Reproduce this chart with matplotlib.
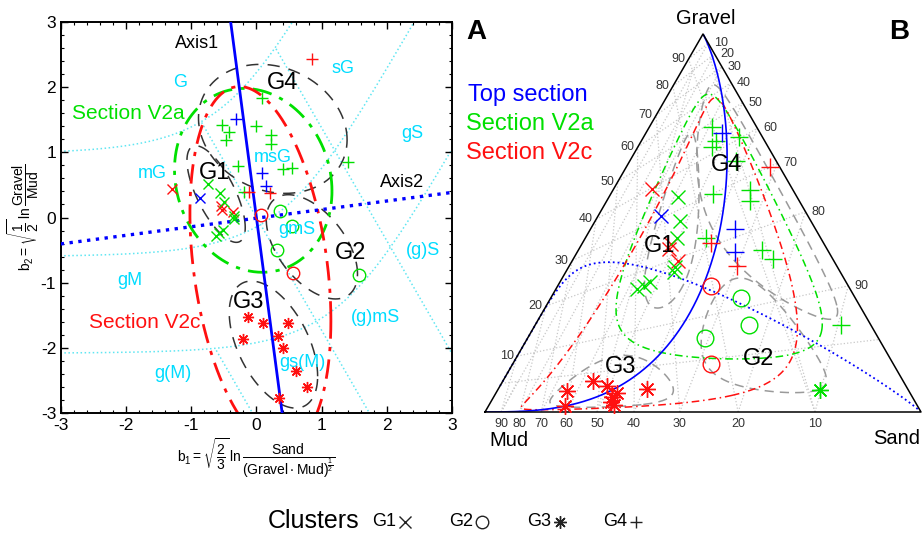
import numpy as np
import matplotlib.pyplot as plt

plt.rcParams['font.family'] = ['Liberation Sans', 'DejaVu Sans']
plt.rcParams['mathtext.fontset'] = 'custom'
plt.rcParams['mathtext.rm'] = 'Liberation Sans'
plt.rcParams['mathtext.it'] = 'Liberation Sans:italic'
plt.rcParams['mathtext.bf'] = 'Liberation Sans:bold'
plt.rcParams['mathtext.default'] = 'regular'
plt.rcParams['axes.unicode_minus'] = False

W, H = 922, 533

# =============================================================================
# Samples in ilr coordinates (b1, b2)
# =============================================================================
pt_b1 = [-0.53, -0.42, -0.47, -0.01, 0.22, 0.22, 0.08, -0.28, -0.19, 0.41, 0.54, 1.40,
         -0.31, 0.08, 0.15,
         0.85, -0.12, 0.21,
         -1.30, -0.54, -0.53, -0.36,
         -0.87,
         -0.74, -0.56, -0.50, -0.35, -0.34, -0.52, -0.57, -0.62,
         0.36, 0.54, 0.31, 1.57,
         0.07, 0.56,
         -0.13, 0.10, 0.48, -0.21, 0.33, 0.40, 0.60, 0.78, 0.35]
pt_b2 = [1.42, 1.31, 1.19, 1.40, 1.27, 1.13, 1.84, 0.79, 0.39, 0.74, 0.76, 0.85,
         1.51, 0.68, 0.48,
         2.43, 0.39, 0.37,
         0.43, 0.17, 0.12, 0.08,
         0.30,
         0.52, 0.37, 0.24, 0.02, -0.02, -0.19, -0.24, -0.29,
         0.10, -0.13, -0.50, -0.88,
         0.04, -0.85,
         -1.53, -1.62, -1.62, -1.87, -1.82, -2.01, -2.35, -2.60, -2.77]
pt_section = ['V2a'] * 12 + ['top'] * 3 + ['V2c'] * 3 + ['V2c'] * 4 + ['top'] \
    + ['V2a'] * 8 + ['V2a'] * 4 + ['V2c'] * 2 + ['V2c'] * 9
pt_cluster = [4] * 18 + [1] * 13 + [2] * 6 + [3] * 9
# panel B draws the far V2a sample of G2 with the G3 symbol
pt_cluster_b = list(pt_cluster)
pt_cluster_b[34] = 3

# =============================================================================
# Regions: centre and covariance in ilr space
# =============================================================================
ell_name = ['G1', 'G2', 'G3', 'G4', 'V2a', 'V2c']
ell_cx = [-0.62, 0.85, 0.26, 0.25, -0.05, 0.06]
ell_cy = [0.36, -0.45, -1.95, 1.36, 0.57, -0.76]
ell_sxx = [0.20, 0.49, 0.46, 1.30, 1.46, 1.17]
ell_syy = [0.55, 0.64, 0.95, 0.98, 1.99, 7.67]
ell_sxy = [-0.23, -0.29, -0.33, -0.19, -0.20, -0.89]

# principal axes
axis_centre = (0.0, -0.01)
axis1_angle = 97.5

# Folk classification limits
folk_gravel = [0.80, 0.30, 0.05]
folk_ratio = [9.0, 1.0, 1 / 9]
folk_ratio_gmax = [0.80, 0.80, 0.05]

# weights (gravel, sand, mud) of the centred ternary grid in panel B
grid_weights = [1.56, 0.346, 1.0]
tern_ticks = [10, 20, 30, 40, 50, 60, 70, 80, 90]

GREEN = '#00e000'
RED = '#ff1010'
BLUE = '#0000ff'
CYAN_L = '#60e6f2'
CYAN_T = '#00dcff'
sec_color = {'top': BLUE, 'V2a': GREEN, 'V2c': RED}
ASTER = (8, 2, 0)
clu_marker = {1: 'x', 2: 'o', 3: ASTER, 4: '+'}

SQ2 = np.sqrt(2)
SQ32 = np.sqrt(1.5)
SQ3 = np.sqrt(3)


def ilr(g, s, m):
    return np.sqrt(2 / 3) * np.log(s / np.sqrt(g * m)), np.log(g / m) / SQ2


def ilr_inv(b1, b2):
    b1 = np.asarray(b1, float)
    b2 = np.asarray(b2, float)
    g = np.exp(SQ2 * b2)
    s = np.exp(SQ32 * b1 + b2 / SQ2)
    return g, s, np.ones_like(g)


def tern(g, s, m):
    t = g + s + m
    return (s + g / 2) / t, g * SQ3 / 2 / t


def tern_grid(g, s, m):
    w = grid_weights
    return tern(np.asarray(g) * w[0], np.asarray(s) * w[1], np.asarray(m) * w[2])


def ellipse(i, n=600):
    c = np.array([[ell_sxx[i], ell_sxy[i]], [ell_sxy[i], ell_syy[i]]])
    L = np.linalg.cholesky(c)
    t = np.linspace(0, 2 * np.pi, n)
    u = L @ np.vstack([np.cos(t), np.sin(t)])
    return ell_cx[i] + u[0], ell_cy[i] + u[1]


def axis_line(angle, span=14, n=3000):
    t = np.linspace(-span, span, n)
    a = np.deg2rad(angle)
    return axis_centre[0] + t * np.cos(a), axis_centre[1] + t * np.sin(a)


def ell_style(name, big):
    if name.startswith('G'):
        return dict(color='#333333' if big else '#9a9a9a', lw=1.1,
                    dashes=(8, 6) if big else (6, 4))
    col = GREEN if name == 'V2a' else RED
    return dict(color=col, lw=2.0 if big else 1.1,
                dashes=(7, 3, 1.5, 3) if big else (5, 2.5, 1, 2.5))


fig = plt.figure(figsize=(W / 100, H / 100), dpi=100)

# =============================================================================
# Panel A: ilr plane
# =============================================================================
axA = fig.add_axes([61 / W, 1 - 413 / H, 391 / W, 391 / H])
axA.set_xlim(-3, 3)
axA.set_ylim(-3, 3)

r = np.logspace(-9, 9, 1500)
for v in folk_gravel:
    s = (1 - v) * r / (1 + r)
    m = (1 - v) / (1 + r)
    x, y = ilr(np.full_like(r, v), s, m)
    axA.plot(x, y, ':', color=CYAN_L, lw=1.1, zorder=1)
for k, gmax in zip(folk_ratio, folk_ratio_gmax):
    g = np.logspace(-9, np.log10(gmax), 1500)
    x, y = ilr(g, (1 - g) * k / (1 + k), (1 - g) / (1 + k))
    axA.plot(x, y, ':', color=CYAN_L, lw=1.1, zorder=1)

for i, name in enumerate(ell_name):
    x, y = ellipse(i)
    axA.plot(x, y, zorder=2, **ell_style(name, True))

x, y = axis_line(axis1_angle)
axA.plot(x, y, '-', color=BLUE, lw=2, zorder=3)
x, y = axis_line(axis1_angle - 90)
axA.plot(x, y, ':', color=BLUE, lw=2.4, zorder=3)

ms_a = {1: 6.5, 2: 9, 3: 8, 4: 9}
for b1, b2, sec, cl in zip(pt_b1, pt_b2, pt_section, pt_cluster):
    col = sec_color[sec]
    axA.plot(b1, b2, linestyle='none', marker=clu_marker[cl], ms=ms_a[cl],
             mec=col, mfc='none', mew=1.0, zorder=4)
    if cl == 3:
        axA.plot(b1, b2, 'o', ms=2.2, color=col, zorder=4)

cyan_labels = [('G', -1.17, 2.07), ('sG', 1.33, 2.29), ('gS', 2.39, 1.29),
               ('mG', -1.60, 0.68), ('msG', 0.25, 0.92), ('gmS', 0.62, -0.19),
               ('(g)S', 2.55, -0.50), ('gM', -1.94, -0.96), ('(g)mS', 1.82, -1.53),
               ('g(M)', -1.28, -2.39), ('gs(M)', 0.70, -2.22)]
for txt, x, y in cyan_labels:
    axA.text(x, y, txt, color=CYAN_T, fontsize=13, ha='center', va='center', zorder=5)

for txt, x, y in [('G4', 0.40, 2.07), ('G1', -0.65, 0.69), ('G2', 1.45, -0.55),
                  ('G3', -0.12, -1.30)]:
    axA.text(x, y, txt, fontsize=17, ha='center', va='center', zorder=5)
axA.text(-0.91, 2.67, 'Axis1', fontsize=13, ha='center', va='center')
axA.text(2.23, 0.54, 'Axis2', fontsize=13, ha='center', va='center')
axA.text(-1.97, 1.60, 'Section V2a', color=GREEN, fontsize=15, ha='center', va='center')
axA.text(-1.71, -1.61, 'Section V2c', color=RED, fontsize=15, ha='center', va='center')

axA.set_xticks(range(-3, 4))
axA.set_yticks(range(-3, 4))
axA.set_xticks(np.arange(-3, 3.01, 0.2), minor=True)
axA.set_yticks(np.arange(-3, 3.01, 0.2), minor=True)
axA.tick_params(which='both', direction='in', top=True, right=True, labelsize=12.5)
axA.tick_params(which='major', length=5, width=1)
axA.tick_params(which='minor', length=2.5, width=0.8)
for sp in axA.spines.values():
    sp.set_linewidth(1.4)
axA.set_xlabel(r'$b_1=\sqrt{\dfrac{2}{3}}\,\ln\dfrac{Sand}{(Gravel\cdot Mud)^{\frac{1}{2}}}$',
               fontsize=10, labelpad=3)
axA.set_ylabel(r'$b_2=\sqrt{\dfrac{1}{2}}\,\ln\dfrac{Gravel}{Mud}$', fontsize=10, labelpad=0)

# =============================================================================
# Panel B: ternary diagram
# =============================================================================
axB = fig.add_axes([485 / W, 1 - 412 / H, 436 / W, 378 / H])
axB.set_xlim(0, 1)
axB.set_ylim(0, SQ3 / 2)
axB.axis('off')

f = np.linspace(0, 1, 300)
for t in tern_ticks:
    v = t / 100
    for g, s, m in [(np.full_like(f, v), (1 - v) * f, (1 - v) * (1 - f)),
                    ((1 - v) * f, np.full_like(f, v), (1 - v) * (1 - f)),
                    ((1 - v) * f, (1 - v) * (1 - f), np.full_like(f, v))]:
        x, y = tern_grid(g, s, m)
        axB.plot(x, y, ':', color='#c8c8c8', lw=0.9, zorder=1)
v = folk_gravel[2]
x, y = tern_grid(np.full_like(f, v), (1 - v) * f, (1 - v) * (1 - f))
axB.plot(x, y, ':', color='#c8c8c8', lw=0.9, zorder=1)
for k, gmax in zip(folk_ratio, folk_ratio_gmax):
    g = np.linspace(0, gmax, 100)
    x, y = tern_grid(g, (1 - g) * k / (1 + k), (1 - g) / (1 + k))
    axB.plot(x, y, ':', color='#c8c8c8', lw=0.9, zorder=1)

for i, name in enumerate(ell_name):
    x, y = tern(*ilr_inv(*ellipse(i)))
    axB.plot(x, y, zorder=2, **ell_style(name, False))

x, y = tern(*ilr_inv(*axis_line(axis1_angle)))
axB.plot(x, y, '-', color=BLUE, lw=1.2, zorder=3)
x, y = tern(*ilr_inv(*axis_line(axis1_angle - 90)))
axB.plot(x, y, ':', color=BLUE, lw=1.3, zorder=3)

axB.plot([0, 1, 0.5, 0], [0, 0, SQ3 / 2, 0], color='black', lw=1.1, zorder=4,
         clip_on=False)

ms_b = {1: 10, 2: 12, 3: 12, 4: 13}
for b1, b2, sec, cl in zip(pt_b1, pt_b2, pt_section, pt_cluster_b):
    col = sec_color[sec]
    x, y = tern(*ilr_inv(b1, b2))
    axB.plot(x, y, linestyle='none', marker=clu_marker[cl], ms=ms_b[cl],
             mec=col, mfc='none', mew=1.0, zorder=5, clip_on=False)
    if cl == 3:
        axB.plot(x, y, 'o', ms=2.5, color=col, zorder=5)

for txt, x, y in [('G4', 0.553, 0.567), ('G1', 0.401, 0.381), ('G3', 0.312, 0.103),
                  ('G2', 0.628, 0.122)]:
    axB.text(x, y, txt, fontsize=17, ha='center', va='center', zorder=6)

for t in tern_ticks:
    v = t / 100
    x, y = tern_grid(v, 0, 1 - v)
    axB.text(x - 0.008, y, str(t), fontsize=9, ha='right', va='center', color='#333333')
    x, y = tern_grid(1 - v, v, 0)
    axB.text(x + 0.013, y, str(t), fontsize=9, ha='left', va='center', color='#333333')
    x, y = tern_grid(0, 1 - v, v)
    axB.text(x, y - 0.014, str(t), fontsize=9, ha='center', va='top', color='#333333')


def ptxt(px, py, s, **kw):
    fig.text(px / W, 1 - py / H, s, **kw)


ptxt(706, 18, 'Gravel', fontsize=14.5, ha='center', va='center')
ptxt(509, 440, 'Mud', fontsize=14.5, ha='center', va='center')
ptxt(897, 438, 'Sand', fontsize=14.5, ha='center', va='center')
ptxt(476, 32, 'A', fontsize=20, fontweight='bold', ha='center', va='center')
ptxt(899, 32, 'B', fontsize=20, fontweight='bold', ha='center', va='center')
ptxt(468, 95, 'Top section', color=BLUE, fontsize=17, ha='left', va='center')
ptxt(466, 124, 'Section V2a', color=GREEN, fontsize=17, ha='left', va='center')
ptxt(466, 153, 'Section V2c', color=RED, fontsize=17, ha='left', va='center')

# cluster key along the bottom
axK = fig.add_axes([0, 0, 1, 1], facecolor='none')
axK.set_xlim(0, W)
axK.set_ylim(H, 0)
axK.axis('off')
ptxt(268, 521, 'Clusters', fontsize=18, ha='left', va='center')
key_x = [372, 449, 527, 603]
for i, kx in enumerate(key_x):
    ptxt(kx, 522, 'G%d' % (i + 1), fontsize=13, ha='left', va='center')
    axK.plot(kx + 33, 522, linestyle='none', marker=clu_marker[i + 1], ms=9,
             mec='#222222', mfc='none', mew=1.0)

fig.savefig('out.png', dpi=100)
